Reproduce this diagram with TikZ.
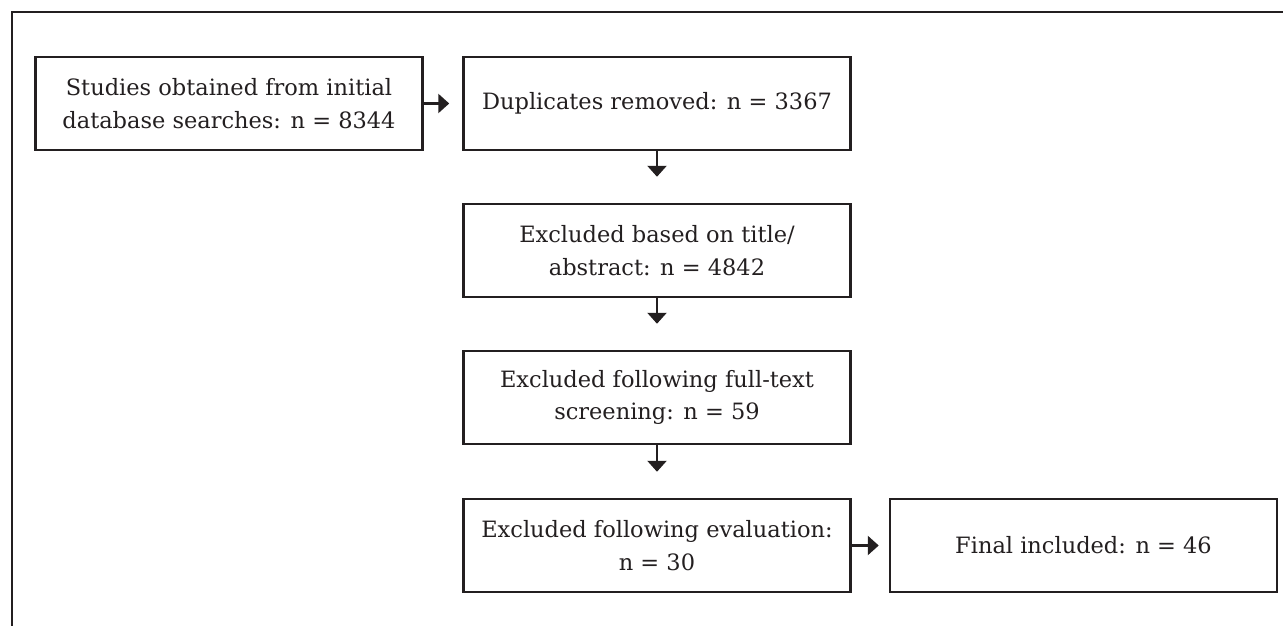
\documentclass[tikz,border=0pt]{standalone}
\usepackage{fontspec}
\setmainfont{DejaVu Serif}
\usetikzlibrary{arrows.meta}
\definecolor{ink}{HTML}{231F20}
\begin{document}
\begin{tikzpicture}[x=1pt,y=-1pt,
  stagebox/.style={draw=ink, line width=2.5pt, minimum width=387pt,
    minimum height=93pt, align=center, inner sep=0pt, text=ink,
    font=\fontsize{22.5}{32.5}\selectfont},
  flow/.style={draw=ink, line width=2.5pt,
    -{Triangle[width=19pt,length=11pt]}}]
\useasboundingbox (0,0) rectangle (1283,626);
\clip (0,0) rectangle (1283,626);
% outer frame (runs off the page to the right and below)
\draw[ink, line width=2.5pt] (12,660) -- (12,12) -- (1320,12);
% stages
\node[stagebox] (found)  at (229,103.5)   {Studies obtained from initial\\database searches: n = 8344};
\node[stagebox] (dups)   at (657,103.5)   {Duplicates removed: n = 3367};
\node[stagebox] (title)  at (657,250.5)   {Excluded based on title/\\abstract: n = 4842};
\node[stagebox] (full)   at (657,397.5)   {Excluded following full-text\\screening: n = 59};
\node[stagebox] (eval)   at (657,545.5)   {Excluded following evaluation:\\n = 30};
\node[stagebox] (final)  at (1083.5,545.5) {Final included: n = 46};
% connectors
\draw[flow, shorten >=13pt] (found) -- (dups);
\draw[flow, shorten >=26pt] (dups) -- (title);
\draw[flow, shorten >=26pt] (title) -- (full);
\draw[flow, shorten >=26pt] (full) -- (eval);
\draw[flow, shorten >=10pt] (eval) -- (final);
\end{tikzpicture}
\end{document}
